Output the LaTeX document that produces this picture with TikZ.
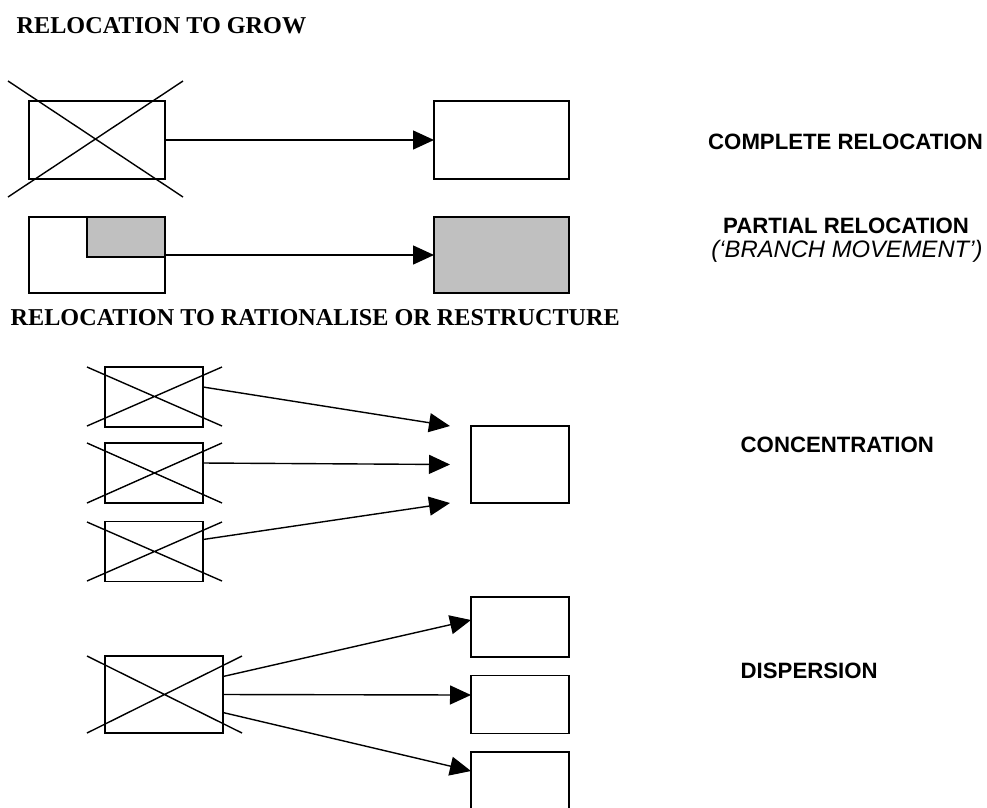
\documentclass[tikz,border=0pt]{standalone}
\usepackage{fontspec}
\setmainfont{Liberation Serif}
\setsansfont{Liberation Sans}
\usetikzlibrary{arrows.meta}
\definecolor{shade}{HTML}{C0C0C0}
\begin{document}
\begin{tikzpicture}[x=1pt,y=-1pt,line width=1.4pt,
  box/.style={draw, inner sep=0pt, outer sep=0pt},
  conn/.style={-{Triangle[length=21pt,width=19pt]}},
  heading/.style={font=\fontsize{24.2}{28}\selectfont\bfseries, anchor=base west, inner sep=0pt},
  tag/.style={font=\fontsize{22.2}{26}\selectfont\sffamily\bfseries, anchor=base, inner sep=0pt},
  tagit/.style={font=\fontsize{23.8}{27}\selectfont\sffamily\itshape, anchor=base, inner sep=0pt}]
\useasboundingbox (0,0) rectangle (987,807);
\clip (0,0) rectangle (987,807);

% headings
\node[heading] (t1) at (16,33) {RELOCATION TO GROW};
\node[heading] (t2) at (10,325) {RELOCATION TO RATIONALISE OR RESTRUCTURE};

% complete relocation
\node[box, minimum width=136pt, minimum height=78pt] (src1) at (97,140) {};
\draw (8,81) -- (183,197) (8,197) -- (183,81);
\node[box, minimum width=135pt, minimum height=78pt] (tgt1) at (501.5,140) {};
\draw[conn] (src1.east) -- (tgt1.west);

% partial relocation
\node[box, minimum width=136pt, minimum height=76pt] (src2) at (97,255) {};
\node[box, fill=shade, minimum width=78pt, minimum height=40pt] (part) at (126,237) {};
\node[box, fill=shade, minimum width=135pt, minimum height=76pt] (tgt2) at (501.5,255) {};
\draw[conn] (src2.east) -- (tgt2.west);

% concentration
\node[box, minimum width=98pt, minimum height=60pt] (ca) at (154,397) {};
\node[box, minimum width=98pt, minimum height=60pt] (cb) at (154,473) {};
\node[box, minimum width=98pt, minimum height=60pt] (cc) at (154,551.5) {};
\draw (87,367) -- (222,426) (87,426) -- (222,367);
\draw (87,443) -- (222,503) (87,503) -- (222,443);
\draw (87,522) -- (222,581) (87,581) -- (222,522);
\node[box, minimum width=98pt, minimum height=77pt] (conc) at (520,464.5) {};
\draw[conn] ([yshift=10pt]ca.east) -- ([xshift=-21pt]conc.north west);
\draw[conn] ([yshift=10pt]cb.east) -- ([xshift=-21pt]conc.west);
\draw[conn] ([yshift=12pt]cc.east) -- ([xshift=-21pt]conc.south west);

% dispersion
\node[box, minimum width=118pt, minimum height=77pt] (ds) at (164,694.5) {};
\draw (87,656) -- (242,733) (87,733) -- (242,656);
\node[box, minimum width=98pt, minimum height=60pt] (d1) at (520,627) {};
\node[box, minimum width=98pt, minimum height=57.5pt] (d2) at (520,704.5) {};
\node[box, minimum width=98pt, minimum height=60pt] (d3) at (520,782) {};
\draw[conn] ([yshift=18pt]ds.east) -- ([yshift=7pt]d1.west);
\draw[conn] (ds.east) -- ([yshift=9.5pt]d2.west);
\draw[conn] ([yshift=-18pt]ds.east) -- ([yshift=11pt]d3.west);

% labels
\node[tag] (l1) at (845.5,149) {COMPLETE RELOCATION};
\node[tag] (l2) at (846,233) {PARTIAL RELOCATION};
\node[tagit] (l3) at (847,257) {(‘BRANCH MOVEMENT’)};
\node[tag, anchor=base west] (l4) at (740,452) {CONCENTRATION};
\node[tag, anchor=base west] (l5) at (740,678) {DISPERSION};
\end{tikzpicture}
\end{document}
